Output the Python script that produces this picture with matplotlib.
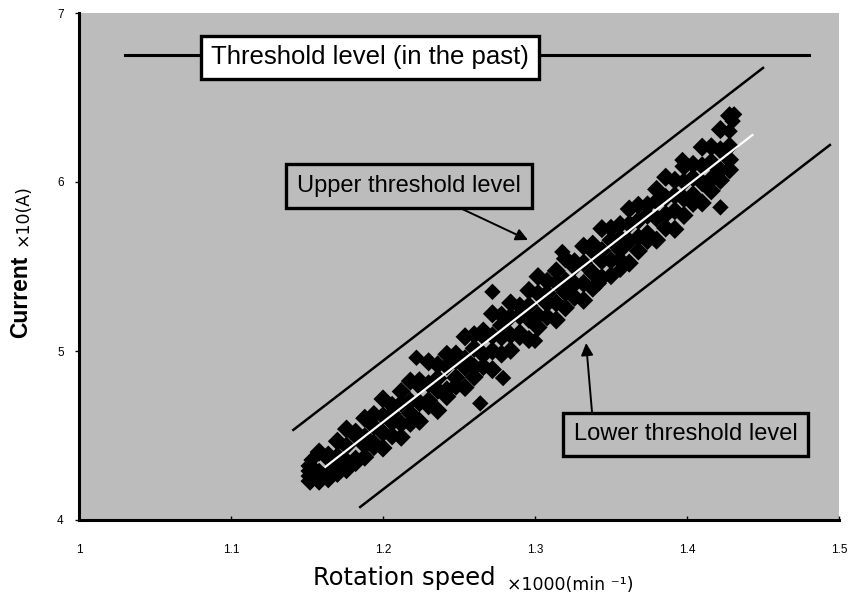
import matplotlib
matplotlib.use('Agg')
import matplotlib.pyplot as plt

# ---------------- data ----------------
x_ticks = [1.0, 1.1, 1.2, 1.3, 1.4, 1.5]
x_tick_labels = ['1', '1.1', '1.2', '1.3', '1.4', '1.5']
y_ticks = [4, 5, 6, 7]
y_tick_labels = ['4', '5', '6', '7']

past_threshold_x = [1.03, 1.48]
past_threshold_y = [6.75, 6.75]
upper_x = [1.141, 1.450]
upper_y = [4.533, 6.675]
lower_x = [1.185, 1.494]
lower_y = [4.077, 6.219]
fit_x = [1.162, 1.443]
fit_y = [4.314, 6.278]

grid_x = [1.152, 1.158, 1.164, 1.170, 1.176, 1.182, 1.188, 1.194, 1.200, 1.206,
          1.212, 1.218, 1.224, 1.230, 1.236, 1.242, 1.248, 1.254, 1.260, 1.266,
          1.272, 1.278, 1.284, 1.290, 1.296, 1.302, 1.308, 1.314, 1.320, 1.326,
          1.332, 1.338, 1.344, 1.350, 1.356, 1.362, 1.368, 1.374, 1.380, 1.386,
          1.392, 1.398, 1.404, 1.410, 1.416, 1.422, 1.428]
row_a_y = [4.320, 4.402, 4.384, 4.466, 4.538, 4.520, 4.602, 4.624, 4.716, 4.678,
           4.760, 4.822, 4.824, 4.936, 4.918, 4.980, 4.982, 5.084, 5.096, 5.118,
           5.220, 5.212, 5.284, 5.266, 5.358, 5.440, 5.412, 5.474, 5.546, 5.528,
           5.620, 5.632, 5.724, 5.726, 5.748, 5.840, 5.862, 5.864, 5.956, 6.028,
           6.010, 6.092, 6.104, 6.206, 6.208, 6.310, 6.392]
row_b_y = [4.260, 4.282, 4.364, 4.376, 4.438, 4.500, 4.492, 4.554, 4.616, 4.628,
           4.690, 4.702, 4.794, 4.806, 4.838, 4.910, 4.942, 4.954, 5.016, 5.088,
           5.090, 5.152, 5.204, 5.206, 5.268, 5.340, 5.342, 5.404, 5.416, 5.498,
           5.520, 5.592, 5.594, 5.656, 5.668, 5.750, 5.772, 5.803, 5.886, 5.908,
           5.920, 6.002, 6.024, 6.096, 6.118, 6.190, 6.212]
row_c_y = [4.230, 4.242, 4.284, 4.316, 4.348, 4.360, 4.442, 4.454, 4.516, 4.578,
           4.570, 4.632, 4.694, 4.706, 4.768, 4.770, 4.842, 4.904, 4.906, 4.978,
           5.000, 5.082, 5.094, 5.106, 5.188, 5.210, 5.282, 5.284, 5.346, 5.398,
           5.400, 5.462, 5.534, 5.536, 5.598, 5.650, 5.672, 5.694, 5.786, 5.808,
           5.830, 5.902, 5.924, 5.996, 6.018, 6.070, 6.132]
row_d_y = [4.290, 4.230, 4.244, 4.276, 4.298, 4.340, 4.372, 4.434, 4.426, 4.498,
           4.490, 4.572, 4.584, 4.676, 4.648, 4.730, 4.792, 4.784, 4.846, 4.908,
           4.890, 4.982, 5.004, 5.086, 5.068, 5.140, 5.202, 5.184, 5.256, 5.318,
           5.300, 5.372, 5.434, 5.446, 5.538, 5.520, 5.592, 5.654, 5.656, 5.728,
           5.720, 5.802, 5.874, 5.876, 5.948, 6.010, 6.072]
outlier_x = [1.153, 1.168, 1.222, 1.264, 1.272, 1.279, 1.318, 1.397, 1.422,
             1.428, 1.430, 1.431, 1.342, 1.356, 1.300]
outlier_y = [4.355, 4.300, 4.960, 4.690, 5.350, 4.840, 5.586, 6.130, 5.850,
             6.300, 6.360, 6.400, 5.400, 5.480, 5.060]

label_past = 'Threshold level (in the past)'
label_upper = 'Upper threshold level'
label_lower = 'Lower threshold level'

# ---------------- figure ----------------
BG = '#bcbcbc'
fig = plt.figure(figsize=(8.52, 6.13), dpi=100)
ax = fig.add_axes([79 / 852, 1 - 520 / 613, 760 / 852, 507 / 613])
ax.set_facecolor(BG)
ax.set_xlim(1.0, 1.5)
ax.set_ylim(4, 7)

for s in ['top', 'right']:
    ax.spines[s].set_visible(False)
for s in ['left', 'bottom']:
    ax.spines[s].set_linewidth(2.2)
    ax.spines[s].set_color('black')

ax.set_xticks(x_ticks)
ax.set_xticklabels(x_tick_labels, family='Liberation Sans', fontsize=8.5)
ax.set_yticks(y_ticks)
ax.set_yticklabels(y_tick_labels, family='Liberation Sans', fontsize=8.5)
ax.tick_params(axis='x', direction='in', length=3, width=1, pad=17)
ax.tick_params(axis='y', direction='out', length=3, width=1, pad=8)

# scatter cloud
for ry in [row_a_y, row_b_y, row_c_y, row_d_y]:
    ax.scatter(grid_x, ry, marker='D', s=95, c='black', edgecolors='none', zorder=3)
ax.scatter(outlier_x, outlier_y, marker='D', s=70, c='black', edgecolors='none', zorder=3)

# lines
ax.plot(fit_x, fit_y, color='white', lw=1.6, zorder=4)
ax.plot(upper_x, upper_y, color='black', lw=1.8, zorder=2)
ax.plot(lower_x, lower_y, color='black', lw=1.8, zorder=2)
ax.plot(past_threshold_x, past_threshold_y, color='black', lw=2.2, zorder=2)

# annotation boxes
ax.text(1.1914, 6.737, label_past, ha='center', va='center',
        family='Liberation Sans', fontsize=18.5, zorder=6,
        bbox=dict(boxstyle='square,pad=0.38', fc='white', ec='black', lw=2.4))
ax.text(1.2171, 5.976, label_upper, ha='center', va='center',
        family='Liberation Sans', fontsize=17, zorder=6,
        bbox=dict(boxstyle='square,pad=0.45', fc=BG, ec='black', lw=2.4))
ax.text(1.3993, 4.506, label_lower, ha='center', va='center',
        family='Liberation Sans', fontsize=17, zorder=6,
        bbox=dict(boxstyle='square,pad=0.45', fc=BG, ec='black', lw=2.4))

ax.annotate('', xy=(1.2954, 5.657), xytext=(1.2493, 5.852),
            arrowprops=dict(arrowstyle='-|>', color='black', lw=1.4,
                            mutation_scale=18, shrinkA=0, shrinkB=0), zorder=5)
ax.annotate('', xy=(1.3336, 5.047), xytext=(1.3375, 4.639),
            arrowprops=dict(arrowstyle='-|>', color='black', lw=1.4,
                            mutation_scale=18, shrinkA=0, shrinkB=0), zorder=5)

# axis labels
fig.text(313 / 852, 1 - 585 / 613, 'Rotation speed', ha='left', va='baseline',
         family='DejaVu Sans', fontsize=17.5)
fig.text(507 / 852, 1 - 590 / 613, '×1000(min ⁻¹)', ha='left', va='baseline',
         family='DejaVu Sans', fontsize=12.5)
fig.text(21 / 852, 1 - 297 / 613, 'Current', rotation=90, ha='center', va='center',
         family='Liberation Sans', fontweight='bold', fontsize=16.5)
fig.text(23 / 852, 1 - 215 / 613, '×10(A)', rotation=90, ha='center', va='center',
         family='DejaVu Sans', fontsize=12.5)

fig.savefig('out.png', dpi=100, facecolor='white')
